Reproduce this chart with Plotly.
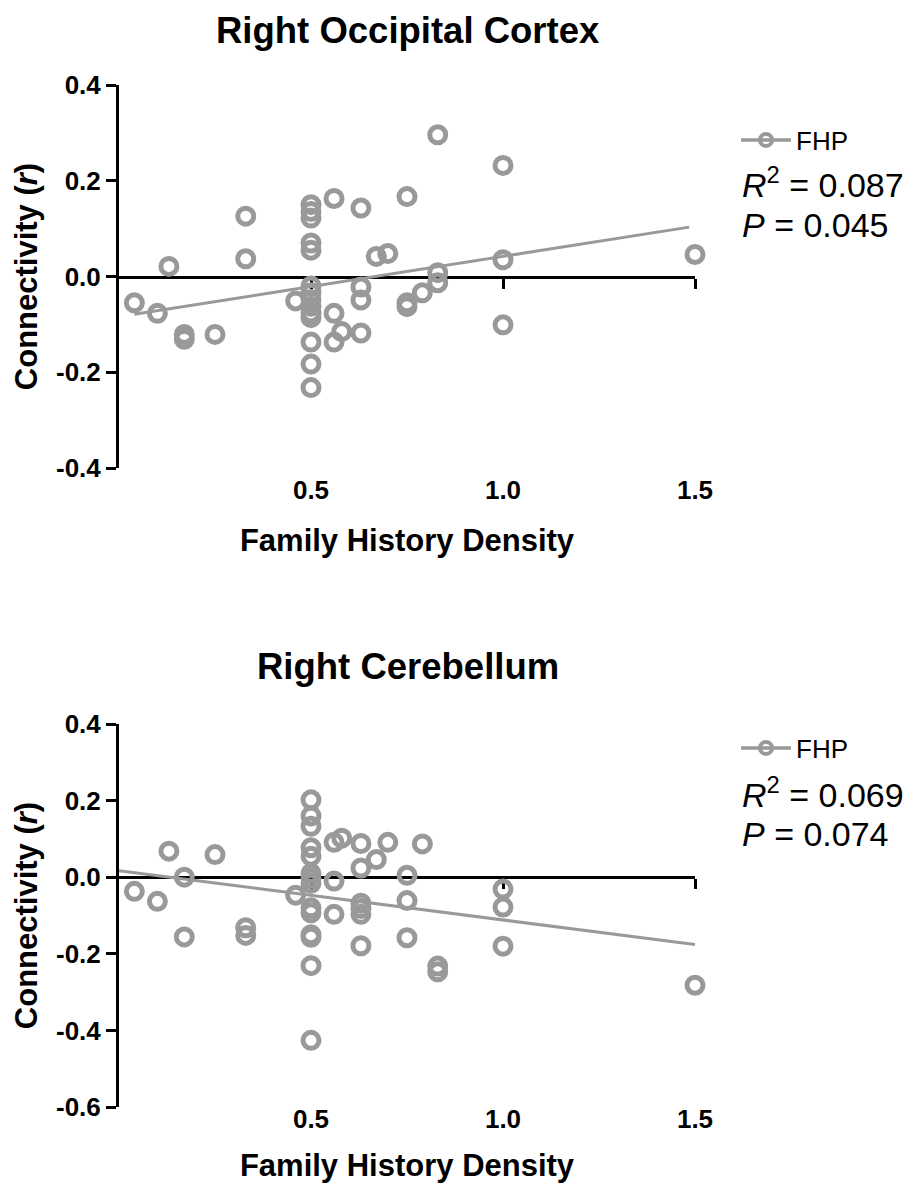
import plotly.graph_objects as go

# ---------------- data: Right Occipital Cortex ----------------
occ_x = [0.04, 0.10, 0.13, 0.17, 0.17, 0.25, 0.33, 0.33, 0.46,
         0.5, 0.5, 0.5, 0.5, 0.5, 0.5, 0.5, 0.5, 0.5, 0.5, 0.5, 0.5, 0.5, 0.5,
         0.56, 0.56, 0.56, 0.58,
         0.63, 0.63, 0.63, 0.63,
         0.67, 0.70,
         0.75, 0.75, 0.75, 0.79,
         0.83, 0.83, 0.83,
         1.0, 1.0, 1.0, 1.5]
occ_y = [-0.055, -0.077, 0.021, -0.121, -0.131, -0.121, 0.126, 0.037, -0.051,
         0.150, 0.136, 0.122, 0.070, 0.055, -0.020, -0.034, -0.048, -0.062, -0.076, -0.086, -0.137, -0.183, -0.232,
         0.163, -0.077, -0.137, -0.115,
         0.143, -0.022, -0.049, -0.118,
         0.042, 0.048,
         0.167, -0.055, -0.063, -0.034,
         0.296, 0.008, -0.013,
         0.232, 0.035, -0.101, 0.046]
occ_fit_x = [0.04, 1.485]
occ_slope, occ_intercept = 0.126, -0.084
occ_r2, occ_p = "0.087", "0.045"

# ---------------- data: Right Cerebellum ----------------
cer_x = [0.04, 0.10, 0.13, 0.17, 0.17, 0.25, 0.33, 0.33, 0.46,
         0.5, 0.5, 0.5, 0.5, 0.5, 0.5, 0.5, 0.5, 0.5, 0.5, 0.5, 0.5, 0.5, 0.5,
         0.56, 0.56, 0.56, 0.58,
         0.63, 0.63, 0.63, 0.63, 0.63, 0.63,
         0.67, 0.70,
         0.75, 0.75, 0.75, 0.79,
         0.83, 0.83,
         1.0, 1.0, 1.0, 1.5]
cer_y = [-0.037, -0.063, 0.068, 0.0, -0.156, 0.059, -0.132, -0.152, -0.047,
         0.202, 0.160, 0.133, 0.077, 0.055, 0.010, -0.003, -0.016, -0.080, -0.093, -0.150, -0.157, -0.231, -0.426,
         0.091, -0.010, -0.097, 0.102,
         0.088, 0.024, -0.068, -0.082, -0.097, -0.179,
         0.046, 0.091,
         0.005, -0.061, -0.158, 0.087,
         -0.232, -0.247,
         -0.031, -0.078, -0.180, -0.282]
cer_fit_x = [0.0, 1.5]
cer_slope, cer_intercept = -0.1287, 0.017
cer_r2, cer_p = "0.069", "0.074"

titles = ["Right Occipital Cortex", "Right Cerebellum"]
x_ticks = [0.5, 1.0, 1.5]
x_tick_text = ["0.5", "1.0", "1.5"]
top_y_ticks = [-0.4, -0.2, 0.0, 0.2, 0.4]
bot_y_ticks = [-0.6, -0.4, -0.2, 0.0, 0.2, 0.4]
series_name = "FHP"

GRAY = "#999999"
FONT = "Arial, Liberation Sans, Helvetica, sans-serif"

# the page body has an 8px default margin, so the figure is laid out 8px in
OFF = 8
W, H = 923 - OFF, 1186 - OFF
ML, MT = 119 - OFF, 85 - OFF
MR = W - (695 - OFF)
MB = H - (1107 - OFF)
plot_w = W - ML - MR
plot_h = H - MT - MB
top_dom = [1 - 383 / plot_h, 1.0]
bot_dom = [0.0, 1 - 639 / plot_h]
top_range = [-0.4, 0.4]
bot_range = [-0.6, 0.4]


def py(pix):
    return 1 - (pix - OFF - MT) / plot_h


def px(pix):
    return (pix - OFF - ML) / plot_w


fig = go.Figure()

panels = [
    dict(x=occ_x, y=occ_y, fx=occ_fit_x, s=occ_slope, b=occ_intercept,
         xa="x", ya="y", xz="x3", leg="legend"),
    dict(x=cer_x, y=cer_y, fx=cer_fit_x, s=cer_slope, b=cer_intercept,
         xa="x2", ya="y2", xz="x4", leg="legend2"),
]

for p in panels:
    fy = [p["s"] * v + p["b"] for v in p["fx"]]
    fig.add_trace(go.Scatter(x=p["fx"], y=fy, mode="lines", xaxis=p["xa"], yaxis=p["ya"],
                             line=dict(color=GRAY, width=3), showlegend=False,
                             hoverinfo="skip", cliponaxis=False))
    fig.add_trace(go.Scatter(x=p["x"], y=p["y"], mode="markers", xaxis=p["xa"], yaxis=p["ya"],
                             marker=dict(symbol="circle-open", size=16, color=GRAY,
                                         line=dict(color=GRAY, width=5)),
                             showlegend=False, cliponaxis=False))
    fig.add_trace(go.Scatter(x=[None], y=[None], mode="lines+markers", name=series_name,
                             xaxis=p["xa"], yaxis=p["ya"], legend=p["leg"],
                             line=dict(color=GRAY, width=3.5),
                             marker=dict(symbol="circle-open", size=12, color=GRAY,
                                         line=dict(color=GRAY, width=4))))
    fig.add_trace(go.Scatter(x=[None], y=[None], mode="markers", xaxis=p["xz"], yaxis=p["ya"],
                             showlegend=False, hoverinfo="skip"))

tickfont = dict(family=FONT, size=26, color="black", weight="bold")
titlefont = dict(family=FONT, size=31, color="black", weight="bold")


def bottom_axis(anchor, standoff, title_standoff):
    return dict(domain=[0, 1], anchor=anchor, range=[0, 1.5], showline=False, showgrid=False,
                zeroline=False, ticks="", tickvals=x_ticks, ticktext=x_tick_text,
                tickfont=tickfont, ticklabelstandoff=standoff, automargin=False,
                title=dict(text="Family History Density", font=titlefont, standoff=title_standoff))


def zero_axis(overlay, pos):
    return dict(overlaying=overlay, anchor="free", position=pos, range=[0, 1.5],
                showline=True, linecolor="black", linewidth=3, ticks="outside",
                ticklen=10, tickwidth=3, tickcolor="black", tickvals=x_ticks,
                showticklabels=False, showgrid=False, zeroline=False,
                layer="below traces", automargin=False)


def left_axis(anchor, dom, rng, vals):
    return dict(domain=dom, anchor=anchor, range=rng, showline=True, linecolor="black",
                linewidth=3, ticks="outside", ticklen=10, tickwidth=3, tickcolor="black",
                tickvals=vals, ticktext=[f"{v:.1f}" for v in vals], tickfont=tickfont,
                showgrid=False, zeroline=False, layer="below traces", automargin=False,
                title=dict(text="Connectivity (<i>r</i>)", font=titlefont, standoff=10))


top_zero = top_dom[0] + (0 - top_range[0]) / (top_range[1] - top_range[0]) * (top_dom[1] - top_dom[0])
bot_zero = bot_dom[0] + (0 - bot_range[0]) / (bot_range[1] - bot_range[0]) * (bot_dom[1] - bot_dom[0])

legend_style = dict(font=dict(family=FONT, size=26, color="black"), bgcolor="rgba(0,0,0,0)",
                    xanchor="left", yanchor="middle", itemwidth=50)

fig.update_layout(
    width=W, height=H, margin=dict(l=ML, r=MR, t=MT, b=MB, autoexpand=False),
    paper_bgcolor="white", plot_bgcolor="white",
    xaxis=bottom_axis("y", 4, 25),
    xaxis2=bottom_axis("y2", -6, 21),
    xaxis3=zero_axis("x", top_zero),
    xaxis4=zero_axis("x2", bot_zero),
    yaxis=left_axis("x", top_dom, top_range, top_y_ticks),
    yaxis2=left_axis("x2", bot_dom, bot_range, bot_y_ticks),
    legend=dict(x=px(736), y=py(140), **legend_style),
    legend2=dict(x=px(736), y=py(748), **legend_style),
    showlegend=True,
)

annots = []
for t, yc in [(titles[0], 31), (titles[1], 666)]:
    annots.append(dict(text=t, xref="paper", yref="paper", x=px(408), y=py(yc),
                       xanchor="center", yanchor="middle", showarrow=False,
                       font=dict(family=FONT, size=36.5, color="black", weight="bold")))
for (r2, pv, y1, y2) in [(occ_r2, occ_p, 183, 225), (cer_r2, cer_p, 792, 834)]:
    annots.append(dict(text=f"<i>R</i><sup>2</sup> = {r2}", xref="paper", yref="paper",
                       x=px(740), y=py(y1), xanchor="left", yanchor="middle",
                       showarrow=False, font=dict(family=FONT, size=34, color="black")))
    annots.append(dict(text=f"<i>P</i> = {pv}", xref="paper", yref="paper",
                       x=px(740), y=py(y2), xanchor="left", yanchor="middle",
                       showarrow=False, font=dict(family=FONT, size=34, color="black")))
fig.update_layout(annotations=annots)

fig.write_html("out.html")
